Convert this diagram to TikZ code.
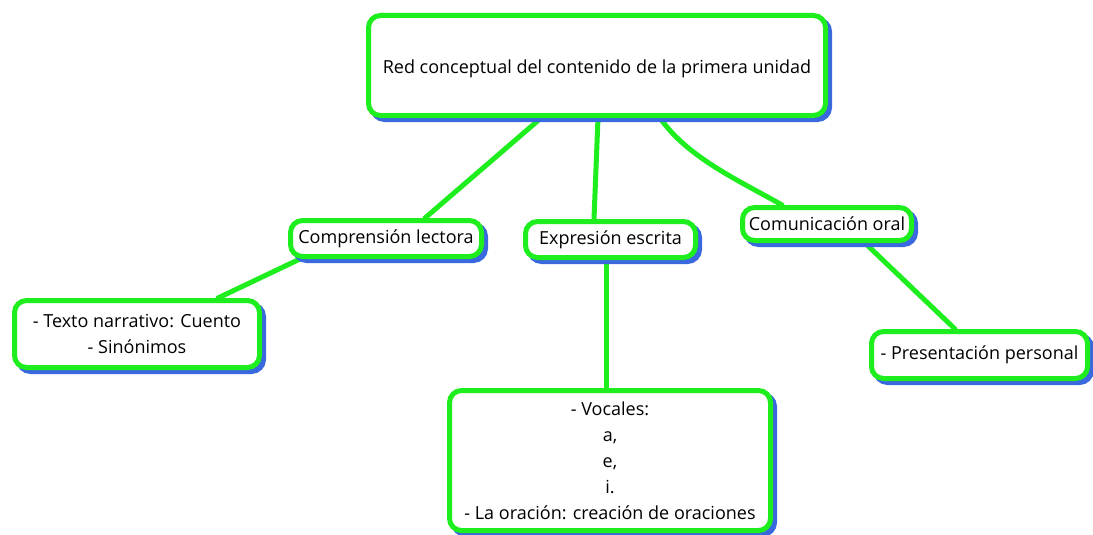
\documentclass[tikz,border=0pt]{standalone}
\usepackage{fontspec}
\setmainfont{Open Sans}
\usetikzlibrary{shadows,calc}
\definecolor{mgreen}{RGB}{30,238,30}
\definecolor{shblue}{RGB}{58,104,222}
\pgfdeclarelayer{bg}\pgfsetlayers{bg,main}
\begin{document}
\begin{tikzpicture}[x=1pt,y=-1pt,
 box/.style={draw=mgreen, line width=5pt, fill=white, rounded corners=12pt, align=center, inner sep=0pt,
   font=\fontsize{18}{26}\selectfont,
   general shadow={fill=shblue, draw=shblue, line width=5pt, shadow xshift=4pt, shadow yshift=-4pt}},
 link/.style={draw=mgreen, line width=5pt, line cap=round}]
\useasboundingbox (0,0) rectangle (1093,535);
\node[box, minimum width=457pt, minimum height=100pt] (top) at (597,65.5) {\rule{0pt}{20pt}Red conceptual del contenido de la primera unidad};
\node[box, minimum width=191pt, minimum height=36pt] (comp) at (386,238.5) {Comprensión lectora};
\node[box, minimum width=170pt, minimum height=36pt] (expr) at (610.5,239.5) {Expresión escrita};
\node[box, minimum width=169pt, minimum height=33pt] (comu) at (827,224) {Comunicación oral};
\node[box, minimum width=245pt, minimum height=67pt] (texto) at (137,334) {- Texto narrativo: Cuento\\- Sinónimos};
\node[box, minimum width=216pt, minimum height=47pt] (pres) at (979.5,355) {- Presentación personal};
\node[box, minimum width=321pt, minimum height=140pt] (voc) at (610,460.5) {- Vocales:\\a,\\e,\\i.\\- La oración: creación de oraciones};
\begin{pgfonlayer}{bg}
\fill[white] (0,0) rectangle (1093,535);
\draw[link] ($(top.south)+(-56,0)$) -- ($(comp.north)+(39,0)$);
\draw[link] ($(top.south)+(1,0)$) -- ($(expr.north)+(-16.5,0)$);
\draw[link] ($(top.south)+(63,0)$) .. controls +(28,40) and +(-42,-24) .. ($(comu.north)+(-45,0)$);
\draw[link] ($(comp.south)+(-86,0)$) -- ($(texto.north)+(81,0)$);
\draw[link] ($(expr.south)+(-4.5,0)$) -- ($(voc.north)+(-4,0)$);
\draw[link] ($(comu.south)+(38,0)$) -- ($(pres.north)+(-24.5,0)$);
\end{pgfonlayer}
\end{tikzpicture}
\end{document}
